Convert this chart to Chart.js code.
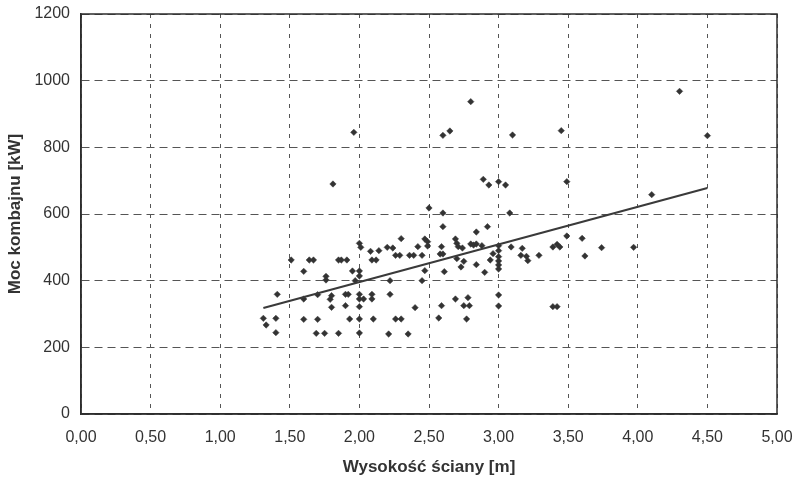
<!DOCTYPE html>
<html>
<head>
<meta charset="utf-8">
<script src="https://cdn.jsdelivr.net/npm/chart.js@4/dist/chart.umd.min.js"></script>
<style>
  html, body { margin: 0; padding: 0; background: #ffffff; }
  #wrap { width: 800px; height: 486px; }
</style>
</head>
<body>
<div id="wrap"><canvas id="c" width="800" height="486"></canvas></div>
<script>
// Wall height [m] of each longwall
const wallHeight = [
  1.31, 1.33, 1.40, 1.40, 1.41,
  1.51, 1.60, 1.64, 1.67, 1.60, 1.60, 1.70, 1.70, 1.69, 1.75,
  1.76, 1.76, 1.79, 1.80, 1.80, 1.81, 1.85, 1.87, 1.91, 1.85, 1.90, 1.92, 1.90, 1.93, 1.95, 1.96, 1.97,
  2.00, 2.01, 2.00, 2.00, 2.00, 2.00, 2.03, 2.00, 2.00, 2.00,
  2.08, 2.14, 2.09, 2.12, 2.09, 2.09, 2.10, 2.20, 2.24, 2.21, 2.22, 2.22, 2.26, 2.29, 2.26, 2.30, 2.30,
  2.36, 2.39, 2.35, 2.40, 2.42, 2.45, 2.45, 2.47, 2.47, 2.49, 2.49, 2.50,
  2.60, 2.60, 2.60, 2.65, 2.59, 2.58, 2.60, 2.61, 2.59, 2.57, 2.69, 2.70, 2.71, 2.74, 2.69, 2.73, 2.70,
  2.75, 2.75, 2.77, 2.78, 2.79, 2.80, 2.80, 2.82, 2.84, 2.84, 2.84, 2.88, 2.89, 2.90, 2.92, 2.93, 2.94, 2.96,
  3.00, 3.00, 3.00, 3.00, 3.00, 3.00, 3.00, 3.00, 3.00, 3.05,
  3.08, 3.10, 3.09, 3.17, 3.16, 3.20, 3.21, 3.29, 3.39, 3.42, 3.44, 3.39, 3.42, 3.45, 3.49, 3.49,
  3.60, 3.62, 3.74, 3.97, 4.10, 4.30, 4.50
];

// Shearer power [kW] for the same longwalls
const shearerPower = [
  287, 267, 287, 244, 359,
  462, 428, 462, 462, 345, 284, 358, 284, 242, 242,
  413, 402, 344, 355, 320, 690, 462, 462, 462, 242, 359, 359, 325, 285, 429, 845, 400,
  512, 500, 429, 414, 359, 345, 345, 322, 285, 243,
  488, 490, 462, 462, 359, 345, 285, 500, 498, 240, 400, 359, 476, 476, 285, 285, 526,
  476, 476, 240, 319, 502, 476, 400, 430, 525, 517, 504, 618,
  603, 562, 836, 849, 502, 480, 480, 427, 325, 288, 525, 512, 502, 498, 345, 441, 466,
  458, 325, 285, 349, 325, 937, 510, 507, 510, 546, 448, 505, 704, 425, 562, 687, 462, 481,
  697, 505, 490, 472, 459, 447, 435, 357, 324, 687,
  603, 837, 501, 497, 476, 473, 460, 476, 501, 509, 501, 322, 322, 850, 697, 534,
  527, 474, 499, 500, 658, 968, 835
];

// Trend line end points
const trendX = [1.31, 4.50];
const trendY = [318, 678];

// Axis ranges and steps
const xTicksMin = 0, xTicksMax = 5, xTicksStep = 0.5;
const yTicksMin = 0, yTicksMax = 1200, yTicksStep = 200;

const xTitle = 'Wysokość ściany [m]';
const yTitle = 'Moc kombajnu [kW]';

const ink = '#2e2e2e';
const gridInk = '#555555';
const fontFamily = 'Liberation Sans, Arial, sans-serif';

const points = wallHeight.map((x, i) => ({ x: x, y: shearerPower[i] }));
const trend = trendX.map((x, i) => ({ x: x, y: trendY[i] }));

// Solid frame around the plotting area
const frame = {
  id: 'frame',
  afterDraw(chart) {
    const a = chart.chartArea, ctx = chart.ctx;
    ctx.save();
    ctx.strokeStyle = ink;
    ctx.lineWidth = 1.5;
    ctx.strokeRect(a.left, a.top, a.right - a.left, a.bottom - a.top);
    ctx.restore();
  }
};

new Chart(document.getElementById('c'), {
  type: 'scatter',
  data: {
    datasets: [
      {
        type: 'line',
        data: trend,
        borderColor: '#3a3a3a',
        borderWidth: 2.2,
        pointRadius: 0,
        fill: false,
        tension: 0,
        order: 0
      },
      {
        data: points,
        pointStyle: 'rectRot',
        pointRadius: 3.2,
        backgroundColor: '#333333',
        borderColor: '#333333',
        borderWidth: 0.5,
        order: 1
      }
    ]
  },
  options: {
    responsive: false,
    animation: false,
    layout: { padding: { top: 14, right: 23, left: 0, bottom: 0 } },
    plugins: { legend: { display: false }, tooltip: { enabled: false } },
    scales: {
      x: {
        type: 'linear',
        min: xTicksMin,
        max: xTicksMax,
        afterFit(s) { s.height = 72; s.paddingLeft = 0; s.paddingRight = 0; },
        ticks: {
          stepSize: xTicksStep,
          padding: 14,
          color: '#333',
          font: { family: fontFamily, size: 16 },
          callback: v => Number(v).toFixed(2).replace('.', ',')
        },
        grid: { color: gridInk, lineWidth: 1, drawTicks: false },
        border: { display: true, color: ink, width: 1.5, dash: [4, 6] },
        title: {
          display: true,
          text: xTitle,
          color: '#333',
          font: { family: fontFamily, size: 17, weight: 'bold' },
          padding: { top: 0, bottom: 8 }
        }
      },
      y: {
        type: 'linear',
        min: yTicksMin,
        max: yTicksMax,
        afterFit(s) { s.width = 81; s.paddingTop = 0; s.paddingBottom = 0; },
        ticks: {
          stepSize: yTicksStep,
          padding: 11,
          color: '#333',
          font: { family: fontFamily, size: 16 },
          callback: v => String(v)
        },
        grid: { color: gridInk, lineWidth: 1, drawTicks: false },
        border: { display: true, color: ink, width: 1.5, dash: [8, 5] },
        title: {
          display: true,
          text: yTitle,
          color: '#333',
          font: { family: fontFamily, size: 17, weight: 'bold' },
          padding: { top: 5, bottom: 0 }
        }
      }
    }
  },
  plugins: [frame]
});
</script>
</body>
</html>
